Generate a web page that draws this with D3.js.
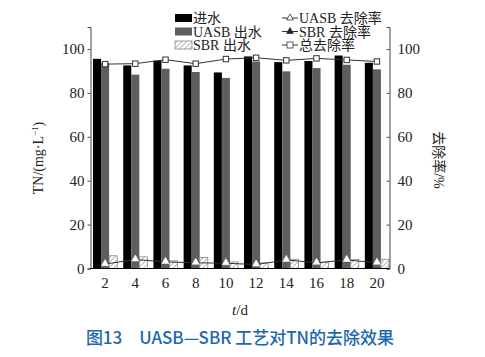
<!DOCTYPE html>
<html>
<head>
<meta charset="utf-8">
<script src="https://cdn.jsdelivr.net/npm/d3@7"></script>
<style>
  body { margin: 0; background: #fff; }
  text { font-family: "Liberation Serif", "Noto Sans CJK SC", serif; }
</style>
</head>
<body>
<div id="chart"></div>
<script>
// jours
var days = [2, 4, 6, 8, 10, 12, 14, 16, 18, 20];
// TN (mg/L)
var influent = [95.5, 92.5, 94.7, 92.5, 89.3, 96.6, 94.0, 94.5, 97.0, 93.7];
var uasbOut = [93.6, 88.3, 91.0, 89.5, 86.8, 94.3, 89.8, 91.3, 92.8, 90.7];
var sbrOut = [5.8, 5.3, 3.5, 5.0, 3.0, 2.6, 4.2, 2.7, 4.1, 4.2];
// taux d'élimination (%)
var uasbRate = [2.0, 4.1, 3.0, 2.6, 2.4, 1.8, 3.9, 2.6, 3.9, 2.6];
var totalRate = [93.1, 93.3, 95.1, 93.3, 95.4, 96.0, 94.8, 95.7, 95.0, 94.3];
var yTicks = [0, 20, 40, 60, 80, 100];

var width = 485, height = 357;
var plotLeft = 90.5, plotRight = 389.5, plotTop = 27, plotBottom = 268.5;

var svg = d3.select("#chart").append("svg")
    .attr("width", width)
    .attr("height", height);

var defs = svg.append("defs");
var pat = defs.append("pattern")
    .attr("id", "hatch")
    .attr("patternUnits", "userSpaceOnUse")
    .attr("width", 3.5).attr("height", 3.5)
    .attr("patternTransform", "rotate(45)");
pat.append("rect").attr("width", 3.5).attr("height", 3.5).attr("fill", "#fff");
pat.append("line").attr("x1", 0).attr("y1", 0).attr("x2", 0).attr("y2", 3.5)
    .attr("stroke", "#777").attr("stroke-width", 1);

var x = d3.scaleBand().domain(days).range([90, 392]).paddingInner(0.2).paddingOuter(0.1);
var sub = d3.scaleBand().domain(["in", "uasb", "sbr"]).range([0, x.bandwidth()]);
var y = d3.scaleLinear().domain([0, 110]).range([plotBottom, plotTop]);
var yR = d3.scaleLinear().domain([0, 110]).range([plotBottom, plotTop]);

var cx = d => x(d) + x.bandwidth() / 2;

// barres
var series = [
    { key: "in", vals: influent, fill: "#000", stroke: "none" },
    { key: "uasb", vals: uasbOut, fill: "#5e5e5e", stroke: "none" },
    { key: "sbr", vals: sbrOut, fill: "url(#hatch)", stroke: "#888" }
];
series.forEach(function (s) {
    svg.append("g").selectAll("rect")
        .data(days)
        .enter()
        .append("rect")
        .attr("x", (d) => x(d) + sub(s.key))
        .attr("y", (d, i) => y(s.vals[i]))
        .attr("width", sub.bandwidth())
        .attr("height", (d, i) => plotBottom - y(s.vals[i]))
        .attr("fill", s.fill)
        .attr("stroke", s.stroke)
        .attr("stroke-width", 0.8);
});

// lignes
var lineRate = d3.line().x((d, i) => cx(days[i])).y(d => yR(d));
svg.append("path").datum(totalRate)
    .attr("d", lineRate).attr("fill", "none").attr("stroke", "#333").attr("stroke-width", 1);
svg.append("g").selectAll("rect")
    .data(totalRate).enter().append("rect")
    .attr("x", (d, i) => cx(days[i]) - 2.7)
    .attr("y", d => yR(d) - 2.7)
    .attr("width", 5.4).attr("height", 5.4)
    .attr("fill", "#fff").attr("stroke", "#333").attr("stroke-width", 1);

svg.append("path").datum(uasbRate)
    .attr("d", lineRate).attr("fill", "none").attr("stroke", "#333").attr("stroke-width", 1);
var tri = d3.symbol().type(d3.symbolTriangle).size(22);
svg.append("g").selectAll("path")
    .data(uasbRate).enter().append("path")
    .attr("d", tri)
    .attr("transform", (d, i) => "translate(" + cx(days[i]) + "," + (yR(d) - 0.5) + ")")
    .attr("fill", "#fff").attr("stroke", "#fff").attr("stroke-width", 0.5);

// axes
var axL = svg.append("g").attr("transform", "translate(" + plotLeft + ",0)")
    .call(d3.axisLeft(y).tickValues(yTicks).tickSize(3).tickPadding(3));
var axR = svg.append("g").attr("transform", "translate(" + plotRight + ",0)")
    .call(d3.axisRight(yR).tickValues(yTicks).tickSize(-3).tickPadding(8));
var axB = svg.append("g").attr("transform", "translate(0," + plotBottom + ")")
    .call(d3.axisBottom(x).tickSize(0).tickPadding(9));
axB.select(".domain").attr("d", "M" + plotLeft + ",0H" + plotRight).attr("stroke", "#000");
[axL, axR].forEach(function (a) {
    a.select(".domain").attr("stroke", "#444");
    a.selectAll(".tick line").attr("stroke", "#444");
});
[axL, axR, axB].forEach(function (a) {
    a.selectAll("text").style("font-family", "Liberation Serif").style("font-size", "15px").attr("fill", "#222");
});

// titres des axes
svg.append("text")
    .attr("transform", "translate(43,158) rotate(-90)")
    .attr("text-anchor", "middle")
    .style("font-size", "14px").attr("fill", "#222")
    .html('TN/(mg·L<tspan dy="-5" font-size="9">−1</tspan><tspan dy="5">)</tspan>');
svg.append("text")
    .attr("transform", "translate(434,160) rotate(90)")
    .attr("text-anchor", "middle")
    .style("font-size", "14px").attr("fill", "#222")
    .text("去除率/%");
svg.append("text")
    .attr("x", 240).attr("y", 315)
    .attr("text-anchor", "middle")
    .style("font-size", "15px").attr("fill", "#222")
    .html('<tspan font-style="italic">t</tspan>/d');

// légende
var leg = svg.append("g");
var legLeft = [
    { name: "进水", fill: "#000", stroke: "none" },
    { name: "UASB 出水", fill: "#5e5e5e", stroke: "none" },
    { name: "SBR 出水", fill: "url(#hatch)", stroke: "#888" }
];
legLeft.forEach(function (d, i) {
    var yy = 18 + i * 13.5;
    leg.append("rect").attr("x", 175).attr("y", yy - 4).attr("width", 17).attr("height", 8)
        .attr("fill", d.fill).attr("stroke", d.stroke).attr("stroke-width", 0.8);
    leg.append("text").attr("x", 193).attr("y", yy + 5)
        .style("font-size", "14px").attr("fill", "#222").text(d.name);
});
var legRight = [
    { name: "UASB 去除率", shape: "tri", fill: "#fff" },
    { name: "SBR 去除率", shape: "tri", fill: "#222" },
    { name: "总去除率", shape: "sq", fill: "#fff" }
];
legRight.forEach(function (d, i) {
    var yy = 18 + i * 13.5;
    leg.append("line").attr("x1", 282).attr("x2", 298).attr("y1", yy).attr("y2", yy)
        .attr("stroke", "#333").attr("stroke-width", 1);
    if (d.shape === "tri") {
        leg.append("path").attr("d", d3.symbol().type(d3.symbolTriangle).size(20))
            .attr("transform", "translate(290," + yy + ")")
            .attr("fill", d.fill).attr("stroke", "#333").attr("stroke-width", 0.8);
    } else {
        leg.append("rect").attr("x", 287).attr("y", yy - 3).attr("width", 6).attr("height", 6)
            .attr("fill", d.fill).attr("stroke", "#333").attr("stroke-width", 0.8);
    }
    leg.append("text").attr("x", 299).attr("y", yy + 5)
        .style("font-size", "14px").attr("fill", "#222").text(d.name);
});

// légende de la figure
svg.append("text")
    .attr("x", 240).attr("y", 344)
    .attr("text-anchor", "middle")
    .style("font-family", "'Noto Sans CJK SC', sans-serif")
    .style("font-size", "17px")
    .style("font-weight", "500")
    .attr("fill", "#1b67b0")
    .text("图13　UASB—SBR 工艺对TN的去除效果");
</script>
</body>
</html>
